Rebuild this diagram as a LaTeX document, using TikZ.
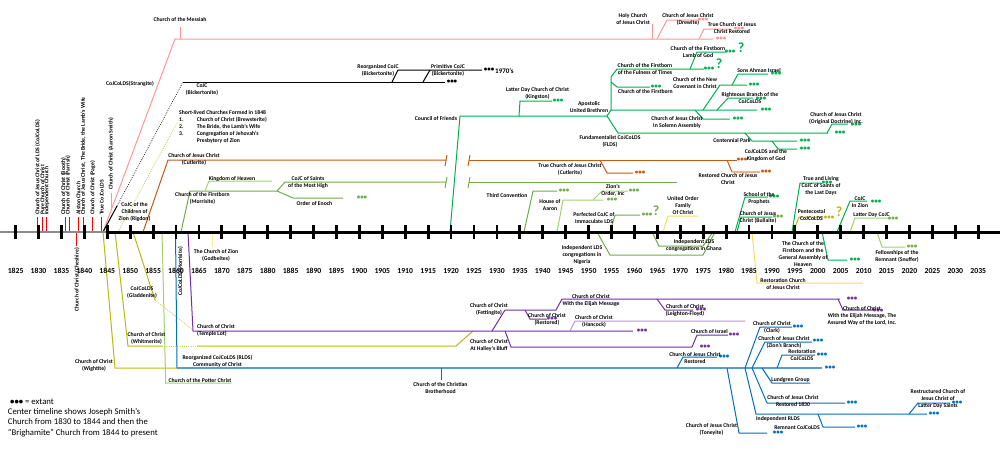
\documentclass[tikz,border=0pt]{standalone}
\usepackage{fontspec}
\setmainfont{Carlito}
\definecolor{pk}{RGB}{255,150,150}
\definecolor{rd}{RGB}{255,0,0}
\definecolor{org}{RGB}{197,90,17}
\definecolor{lorg}{RGB}{244,177,131}
\definecolor{gr}{RGB}{0,176,80}
\definecolor{lg}{RGB}{112,173,71}
\definecolor{llg}{RGB}{160,210,110}
\definecolor{pu}{RGB}{112,48,160}
\definecolor{lpu}{RGB}{177,151,212}
\definecolor{cbl}{RGB}{0,112,192}
\definecolor{lbl}{RGB}{91,155,213}
\definecolor{ol}{RGB}{185,185,20}
\definecolor{ye}{RGB}{255,217,102}
\definecolor{lye}{RGB}{255,230,153}
\tikzset{
 lb/.style={font=\fontsize{5.7}{7}\selectfont\bfseries, inner sep=0pt, align=center, text=black},
 vl/.style={lb, rotate=90, anchor=west},
 dt/.style={font=\fontsize{7}{7}\selectfont\bfseries, inner sep=0pt},
 qm/.style={font=\fontsize{14}{14}\selectfont\bfseries, inner sep=0pt},
 ln/.style={line width=1pt},
 yr/.style={font=\fontsize{7.7}{8}\selectfont\bfseries, inner sep=0pt},
}
\newcounter{dotc}
\newcommand\Dts[3]{\stepcounter{dotc}\node[dt,text=#1] (dots\thedotc) at (#2,#3) {•••};}
\newcommand\Qm[3]{\stepcounter{dotc}\node[qm,text=#1] (qm\thedotc) at (#2,#3) {?};}
\begin{document}
\begin{tikzpicture}[x=1pt,y=-1pt]
\useasboundingbox (0,0) rectangle (1000,464);
\fill[white] (0,0) rectangle (1000,464);

% ===== pink (Strangite)
\draw[pk,ln] (103,232) -- (175,39) -- (713,39);
\draw[pk,ln] (180,39) -- (180,27);
\draw[pk,ln] (111,208) -- (111,193);
\draw[pk,ln] (652,39) -- (652,24);
\draw[pk,ln] (657,39) -- (667,20) -- (697,20);
\draw[pk,ln] (699,39) -- (704,29) -- (731,29);
\Dts{pk}{721}{39} \Dts{pk}{703}{20} \Dts{pk}{739}{29}

% ===== red short lines
\foreach \xx in {37.7,42.3,46.7,65,69.3,78.3,83.3,92.7,101.7} {\draw[rd,ln] (\xx,217) -- (\xx,232);}
\draw[rd,ln] (76,232) -- (76,246);

% ===== black (Rigdon / Bickerton)
\draw[ln] (103,232) -- (117,206);
\draw[line width=0.7pt,dash pattern=on 0.7pt off 1.3pt] (117,206) -- (183,82);
\draw[ln] (183,82) -- (445,82);
\draw[ln] (392,82) -- (398,70) -- (482,70);
\draw[ln] (423,82) -- (430,70);
\Dts{black}{452}{82} \Dts{black}{489}{70}
\node[font=\fontsize{7}{7}\selectfont\bfseries, inner sep=0, anchor=west] (y1970) at (495,71) {1970's};

% ===== short-lived
\draw[ol!70,line width=0.8pt,dash pattern=on 1pt off 1.2pt] (118,232) -- (177,123);

% ===== orange (Cutlerite)
\draw[org,ln] (143,232) -- (168,160) -- (446,160);
\draw[org,ln] (469,160) -- (737,160);
\draw[org,ln] (445,166) -- (447,155);
\draw[org,ln] (468,166) -- (470,155);
\draw[org,ln] (600,160) -- (607,173) -- (633,173);
\draw[org,ln] (727,160) -- (732,172);
\draw[lorg,line width=1.5pt] (732,172) -- (760,172);
\Dts{org}{742}{160} \Dts{org}{640}{173} \Dts{org}{766}{172}

% ===== green (Morrisite)
\draw[lg,ln] (181,232) -- (190,191) -- (277,191) -- (285,182) -- (446,182);
\draw[lg,ln] (469,182) -- (677,182);
\draw[lg,ln] (445,188) -- (447,177);
\draw[lg,ln] (468,188) -- (470,177);
\draw[lg,ln] (277,191) -- (293,198) -- (343,198);
\draw[llg,ln] (205,191) -- (209,181) -- (272,181);
\Dts{lg}{362}{198}

% ===== green (Council of Friends)
\draw[gr,ln] (450,232) -- (460,116) -- (607,116);
\draw[gr,ln] (519,116) -- (520,101) -- (552,101);
\draw[gr,ln] (607,116) -- (611,110) -- (757,110);
\draw[gr,ln] (611,110) -- (611,77) -- (617,69) -- (704,69);
\draw[gr,ln] (611,82) -- (617,87) -- (650,87);
\draw[gr,ln] (690,69) -- (697,52) -- (726,52);
\draw[gr,ln] (703,110) -- (720,85) -- (747,85);
\draw[gr,ln] (732,85) -- (738,74) -- (768,74);
\draw[gr,ln] (717,110) -- (728,98) -- (753,98);
\draw[gr,ln] (695,110) -- (703,119) -- (730,119);
\draw[gr,ln] (607,116) -- (618,133) -- (828,133);
\draw[gr,ln] (827,133) -- (832,124) -- (848,124);
\draw[gr,ln] (745,133) -- (752,141) -- (797,141);
\draw[gr,ln] (772,141) -- (778,149) -- (797,149);
\Dts{gr}{558}{101} \Dts{gr}{656}{87} \Dts{gr}{709}{69} \Qm{gr}{719}{64}
\Dts{gr}{730}{52} \Qm{gr}{741}{48}
\Dts{gr}{766}{110} \Dts{gr}{754}{85} \Dts{gr}{776}{74} \Dts{gr}{761}{99}
\Dts{gr}{738}{119} \Dts{gr}{840}{133} \Dts{gr}{856}{125} \Dts{gr}{805}{141} \Dts{gr}{805}{149}

% ===== green (Third Convention etc.)
\draw[lg,ln] (524,232) -- (533,191) -- (557,191);
\draw[llg,ln] (557,232) -- (563,200) -- (603,200);
\draw[llg,ln] (593,200) -- (602,191) -- (628,191);
\draw[lg,ln] (610,232) -- (615,215) -- (640,215);
\Dts{lg}{564}{191} \Dts{lg}{612}{200} \Dts{lg}{634}{191} \Dts{lg}{647}{215} \Qm{lg}{656}{211}
\draw[lg,ln] (597,232) -- (610,255) -- (703,255) -- (715,232);
\draw[lg,ln] (652,232) -- (659,246) -- (703,246) -- (713,232);
\draw[ye,ln] (663,232) -- (668,216) -- (698,216);

% ===== right side above / below
\draw[gr,ln] (735,232) -- (745,197) -- (768,197); \Dts{gr}{774}{197}
\draw[gr,ln] (737,232) -- (741,217) -- (772,217); \Dts{lg}{778}{217}
\draw[gr,ln] (792,232) -- (800,183) -- (821,183); \Dts{gr}{827}{183}
\draw[ol,ln] (793,232) -- (799,217) -- (823,217); \Dts{ol}{829}{218} \Qm{ol}{839}{212}
\draw[gr,ln] (837,232) -- (850,201) -- (867,201); \Dts{gr}{876}{202}
\draw[llg,ln] (850,232) -- (855,218) -- (888,218); \Dts{lg}{893}{219}
\draw[gr,ln] (822,232) -- (828,260) -- (847,260); \Dts{gr}{855}{260}
\draw[llg,ln] (877,232) -- (882,247) -- (905,247); \Dts{lg}{912}{247}
\draw[ye,ln] (752,232) -- (757,283) -- (863,283);
\draw[lye,ln] (212,232) -- (212,247);

% ===== lower left
\draw[ol,ln] (103,232) -- (115,368) -- (177,368);
\draw[ol,ln] (115,232) -- (128,346) -- (162,346);
\draw[ol!70,line width=0.8pt,dash pattern=on 1pt off 1.2pt] (162,346) -- (197,346);
\draw[ol,ln] (197,346) -- (456,346) -- (473,331);
\draw[ol,ln] (133,232) -- (155,300);
\draw[ol!70,line width=0.8pt,dash pattern=on 1pt off 1.2pt] (155,300) -- (193,330);
\draw[pu,ln] (188,232) -- (193,331) -- (633,331); \Dts{pu}{642}{331}
\draw[llg,ln] (162,232) -- (165.7,383) -- (231.7,383);
\draw[cbl,ln] (175.5,232) -- (177,368);
\draw[lbl,line width=2pt] (177,368) -- (822,368); \Dts{cbl}{830}{368}
\draw[cbl,ln] (441.7,368) -- (441.7,380);

% ===== purple
\draw[pu,ln] (492,331) -- (505,310) -- (556,310) -- (562,299) -- (840,299); \Dts{pu}{852}{299}
\draw[pu,ln] (838,299) -- (843,310) -- (873,310); \Dts{pu}{878}{311}
\draw[pu,ln] (525,310) -- (530,319) -- (547,319); \Dts{pu}{552}{319}
\draw[pu,ln] (657,299) -- (665,310) -- (693,310); \Dts{pu}{701}{310}
\draw[lpu,ln] (570,331) -- (575,321) -- (745,321);
\draw[pu,ln] (505,331) -- (511,347) -- (692,347); \Dts{pu}{705}{347}
\draw[pu,ln] (692,347) -- (697,335) -- (728,335); \Dts{pu}{734}{335}

% ===== blue
\draw[cbl,ln] (677,368) -- (683,357) -- (717,357); \Dts{cbl}{724}{357}
\draw[cbl,ln] (727,368) -- (739,433) -- (767,433); \Dts{cbl}{778}{433}
\draw[cbl,ln] (745,368) -- (760,327) -- (792,327); \Dts{cbl}{798}{327}
\draw[cbl,ln] (752,368) -- (765,342) -- (812,342); \Dts{cbl}{818}{341}
\draw[cbl,ln] (777,368) -- (782,355) -- (815,355); \Dts{cbl}{822}{355}
\draw[cbl,ln] (762,368) -- (772,383) -- (810,383);
\draw[cbl,ln] (752,368) -- (767,403) -- (845,403); \Dts{cbl}{852}{403}
\draw[cbl,ln] (745,368) -- (756,414) -- (927,414); \Dts{cbl}{934}{414}
\draw[cbl,ln] (818,414) -- (823,427) -- (855,427); \Dts{cbl}{862}{427}
\draw[cbl,ln] (909,414) -- (918,403) -- (950,403); \Dts{cbl}{957}{403}

% ===== main timeline
\draw[line width=2pt, black!45] (0,232) -- (106,232);
\draw[line width=3pt] (106,232) -- (1000,232);
\foreach \yr in {1825,1830,...,2035} {
  \pgfmathsetmacro\xx{15.6+(\yr-1825)*4.584}
  \fill (\xx-1.4,225) rectangle (\xx+1.4,238.5);
  \node[yr] (yr\yr) at (\xx,271) {\yr};
}

% ===== labels top-left vertical
\node[vl] (v1) at (37.7,215) {Church of Jesus Christ of LDS (CoJCoLDS)};
\node[vl] (v2) at (42.3,215) {Pure Church of Christ};
\node[vl] (v3) at (46.9,215) {Independent Church};
\node[vl] (v4) at (63.5,215) {Church of Christ (Booth)};
\node[vl] (v5) at (67.9,215) {Church of Christ (Parrish)};
\node[vl] (v6) at (78.3,215) {Alston Church};
\node[vl] (v7) at (83.3,215) {Church of Jesus Christ, The Bride, the Lamb's Wife};
\node[vl] (v8) at (92.7,215) {Church of Christ (Page)};
\node[vl] (v9) at (101.7,215) {True CoJCoLDS};
\node[vl] (v10) at (111,190) {Church of Christ (Aaron Smith)};
\node[lb,rotate=90,anchor=east] (chesh) at (77,248) {Church of Christ (Cheshire)};
\node[lb,rotate=90,anchor=east] (morv) at (180.5,247) {CoJCoLDS(Morrisite)};

% ===== labels top
\node[lb] (messiah) at (180,20) {Church of the Messiah};
\node[lb] (strang) at (130,84) {CoJCoLDS(Strangite)};
\node[lb] (holy) at (633,19.5) {Holy Church\\of Jesus Christ};
\node[lb] (drew) at (688,19.5) {Church of Jesus Christ\\(Drewite)};
\node[lb] (tcr) at (732,28.5) {True Church of Jesus\\Christ Restored};
\node[lb] (bick) at (202,89.3) {CoJC\\(Bickertonite)};
\node[lb] (reorgb) at (378,70) {Reorganized CoJC\\(Bickertonite)};
\node[lb] (primb) at (448,70.5) {Primitive CoJC\\(Bickertonite)};
\node[lb] (rigdon) at (134.5,212) {CoJC of the\\Children of\\Zion (Rigdon)};
\node[lb,anchor=west] (sl0) at (179,112.7) {Short-lived Churches Formed in 1848};
\node[lb,anchor=west] (sl1n) at (179,119.5) {1.};
\node[lb,anchor=west] (sl1) at (196.7,119.5) {Church of Christ (Brewsterite)};
\node[lb,anchor=west] (sl2n) at (179,126.6) {2.};
\node[lb,anchor=west] (sl2) at (196.7,126.6) {The Bride, the Lamb's Wife};
\node[lb,anchor=west] (sl3n) at (179,133.7) {3.};
\node[lb,anchor=west] (sl3) at (196.7,133.7) {Congregation of Jehovah's};
\node[lb,anchor=west] (sl4) at (196.7,140.8) {Presbytery of Zion};
\node[lb] (cutl) at (194,159.5) {Church of Jesus Christ\\(Cutlerite)};
\node[lb] (tcut) at (570,169.5) {True Church of Jesus Christ\\(Cutlerite)};
\node[lb] (rest) at (728,179) {Restored Church of Jesus\\Christ};
\node[lb] (morr) at (202.5,198.5) {Church of the Firstborn\\(Morrisite)};
\node[lb] (kheav) at (232,178.5) {Kingdom of Heaven};
\node[lb] (saints) at (308,182.5) {CoJC of Saints\\of the Most High};
\node[lb] (enoch) at (314.5,203.3) {Order of Enoch};
\node[lb] (council) at (436,119) {Council of Friends};
\node[lb] (kings) at (537.5,93.5) {Latter Day Church of Christ\\(Kingston)};
\node[lb] (aub) at (589,107.3) {Apostolic\\United Brethren};
\node[lb] (fult) at (645,69.5) {Church of the Firstborn\\of the Fulness of Times};
\node[lb] (cfb) at (645.5,92) {Church of the Firstborn};
\node[lb] (lamb) at (698,52) {Church of the Firstborn\\Lamb of God};
\node[lb] (newcov) at (695,83.5) {Church of the New\\Covenant in Christ};
\node[lb] (sons) at (759,71) {Sons Ahman Israel};
\node[lb] (rightb) at (750,98.5) {Righteous Branch of the\\CoJCoLDS};
\node[lb] (solemn) at (677,122.5) {Church of Jesus Christ\\In Solemn Assembly};
\node[lb] (flds) at (610,141.3) {Fundamentalist CoJCoLDS\\(FLDS)};
\node[lb] (origd) at (836,118.5) {Church of Jesus Christ\\(Original Doctrine) Inc.};
\node[lb] (cent) at (732,140.7) {Centennial Park};
\node[lb] (kgod) at (766,155.5) {CoJCoLDS and the\\Kingdom of God};
\node[lb] (third) at (507,196) {Third Convention};
\node[lb] (aaron) at (550,205.3) {House of\\Aaron};
\node[lb] (zion) at (613,190.5) {Zion's\\Order, Inc};
\node[lb] (perf) at (594,218.3) {Perfected CoJC of\\Immaculate LDS};
\node[lb] (uofc) at (683,206) {United Order\\Family\\Of Christ};
\node[lb] (school) at (759,198.3) {School of the\\Prophets};
\node[lb] (bull) at (758,217) {Church of Jesus\\Christ (Bullaite)};
\node[lb] (tliv) at (821,186.3) {True and Living\\CoJC of Saints of\\the Last Days};
\node[lb] (pente) at (811.5,215.5) {Pentecostal\\CoJCoLDS};
\node[lb] (inzion) at (860,202) {CoJC\\In Zion};
\node[lb] (ldcojc) at (871.5,215) {Latter Day CoJC};

% ===== labels below timeline
\node[lb] (niger) at (582,255) {Independent LDS\\congregations in\\Nigeria};
\node[lb] (ghana) at (694,245) {Independent LDS\\congregations in Ghana};
\node[lb] (genas) at (803,254) {The Church of the\\Firstborn and the\\General Assembly of\\Heaven};
\node[lb] (fellow) at (897,256) {Fellowships of the\\Remnant (Snuffer)};
\node[lb] (restch) at (783,284.5) {Restoration Church\\of Jesus Christ};
\node[lb] (godb) at (216,255.5) {The Church of Zion\\(Godbeites)};
\node[lb] (wight) at (94,365.5) {Church of Christ\\(Wightite)};
\node[lb] (whitm) at (146.5,338.5) {Church of Christ\\(Whitmerite)};
\node[lb] (gladd) at (142,292.5) {CoJCoLDS\\(Gladdenite)};
\node[lb,align=left,anchor=west] (templ) at (197,330.5) {Church of Christ\\(Temple Lot)};
\node[lb] (rlds) at (217.5,361.3) {Reorganized CoJCoLDS (RLDS)\\Community of Christ};
\node[lb] (potter) at (200,380.7) {Church of the Potter Christ};
\node[lb] (cbro) at (440.5,388.5) {Church of the Christian\\Brotherhood};
\node[lb] (fett) at (489,309.5) {Church of Christ\\(Fettingite)};
\node[lb] (restd) at (547,319.7) {Church of Christ\\(Restored)};
\node[lb] (elij) at (591,300) {Church of Christ\\With the Elijah Message};
\node[lb] (assured) at (862,316) {Church of Christ\\With the Elijah Message, The\\Assured Way of the Lord, Inc.};
\node[lb] (leigh) at (685,310.5) {Church of Christ\\(Leighton-Floyd)};
\node[lb] (hanc) at (594,321) {Church of Christ\\(Hancock)};
\node[lb] (halley) at (489,345) {Church of Christ\\At Halley's Bluff};
\node[lb] (israel) at (709.5,332) {Church of Israel};
\node[lb] (cjcr) at (695,358) {Church of Jesus Christ\\Restored};
\node[lb] (toney) at (711.5,429.5) {Church of Jesus Christ\\(Toneyite)};
\node[lb] (clark) at (772,327.5) {Church of Christ\\(Clark)};
\node[lb] (zbr) at (784,342.3) {Church of Jesus Christ\\(Zion's Branch)};
\node[lb] (rcoj) at (802,355.3) {Restoration\\CoJCoLDS};
\node[lb] (lund) at (790.5,380) {Lundgren Group};
\node[lb] (r1830) at (793,401.5) {Church of Jesus Christ\\Restored 1830};
\node[lb] (irlds) at (778,418.7) {Independent RLDS};
\node[lb] (remn) at (797,427.7) {Remnant CoJCoLDS};
\node[lb] (restr) at (938,398.5) {Restructured Church of\\Jesus Christ of\\Latter Day Saints};

% ===== legend
\node[anchor=west, font=\fontsize{8.7}{10.5}\selectfont, inner sep=0] (leg1) at (10,401.7) {\textbf{•••} = extant};
\node[anchor=west, align=left, font=\fontsize{8.7}{10.5}\selectfont, inner sep=0] (leg2) at (7.7,422.6) {Center timeline shows Joseph Smith's\\Church from 1830 to 1844 and then the\\“Brighamite” Church from 1844 to present};
\end{tikzpicture}
\end{document}
